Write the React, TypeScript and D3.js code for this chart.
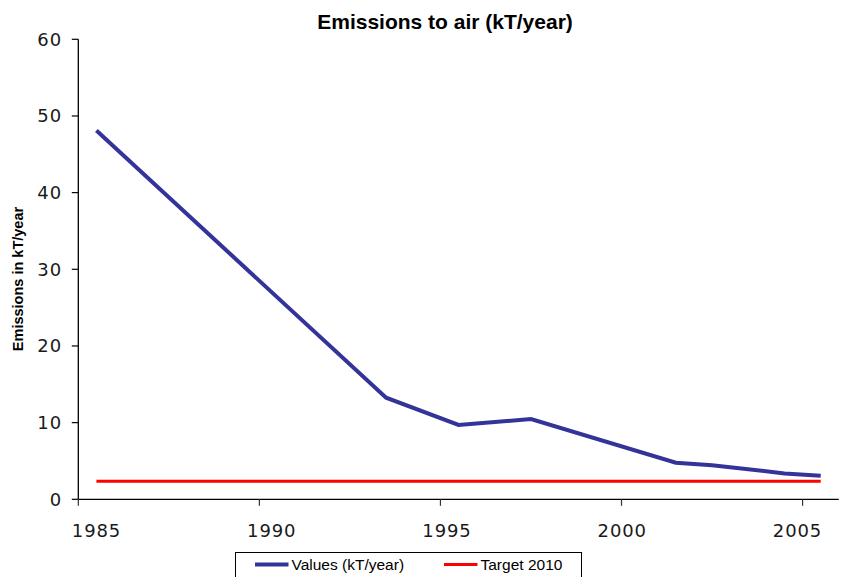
import React, { useEffect, useRef } from "react";
import * as d3 from "d3";

const title = "Emissions to air (kT/year)";
const yAxisTitle = "Emissions in kT/year";
const years = [1985.5, 1993.5, 1995.5, 1997.5, 2001.5, 2002.5, 2004.5, 2005.5];
const values = [48.1, 13.25, 9.7, 10.47, 4.77, 4.45, 3.38, 3.06];
const targetYears = [1985.5, 2004.5, 2005.5];
const targetValues = [2.36, 2.36, 2.36];
const xTicks = [1985, 1990, 1995, 2000, 2005];
const yTicks = [0, 10, 20, 30, 40, 50, 60];
const seriesNames = ["Values (kT/year)", "Target 2010"];
const seriesColors = ["#333399", "#FF0000"];

export default function App() {
  const ref = useRef<SVGSVGElement>(null);
  useEffect(() => {
    const svg = d3.select(ref.current);
    svg.selectAll("*").remove();
    const x = d3.scaleLinear().domain([1985, 2006]).range([78.3, 838.8]);
    const xLabel = d3.scaleLinear().domain([1985, 2005]).range([96, 797]);
    const y = d3.scaleLinear().domain([0, 60]).range([499.3, 39.3]);
    const digitFont = "'DejaVu Sans', Verdana, sans-serif";
    const arial = "'Liberation Sans', Arial, sans-serif";

    // title
    svg.append("text").attr("x", 445).attr("y", 29).attr("text-anchor", "middle")
      .attr("font-family", arial).attr("font-weight", "bold").attr("font-size", 21)
      .text(title);

    // y axis title
    svg.append("text").attr("transform", `translate(23,279) rotate(-90)`)
      .attr("text-anchor", "middle").attr("font-family", arial).attr("font-weight", "bold")
      .attr("font-size", 14.5).text(yAxisTitle);

    // y axis
    const gy = svg.append("g");
    gy.append("line").attr("x1", x(1985)).attr("x2", x(1985)).attr("y1", y(60)).attr("y2", y(0))
      .attr("stroke", "#000").attr("stroke-width", 1.3);
    gy.selectAll("line.tick").data(yTicks).join("line").attr("class", "tick")
      .attr("x1", x(1985) - 6.5).attr("x2", x(1985)).attr("y1", (d) => y(d)).attr("y2", (d) => y(d))
      .attr("stroke", "#000").attr("stroke-width", 1.2);
    gy.selectAll("text").data(yTicks).join("text")
      .attr("x", 62).attr("y", (d) => y(d)).attr("dy", "0.36em").attr("text-anchor", "end")
      .attr("font-family", digitFont).attr("font-size", 18).attr("letter-spacing", 0.9)
      .attr("fill", "#1a1a1a").text((d) => String(d));

    // x axis
    const gx = svg.append("g");
    gx.append("line").attr("x1", x(1985)).attr("x2", x(2006)).attr("y1", y(0)).attr("y2", y(0))
      .attr("stroke", "#000").attr("stroke-width", 1.3);
    gx.selectAll("line.tick").data(xTicks).join("line").attr("class", "tick")
      .attr("x1", (d) => x(d)).attr("x2", (d) => x(d)).attr("y1", y(0)).attr("y2", y(0) + 6.5)
      .attr("stroke", "#333").attr("stroke-width", 1.2);
    gx.selectAll("text").data(xTicks).join("text")
      .attr("x", (d) => xLabel(d) + 0.5).attr("y", 537).attr("text-anchor", "middle")
      .attr("font-family", digitFont).attr("font-size", 18).attr("letter-spacing", 0.9)
      .attr("fill", "#1a1a1a").text((d) => String(d));

    // series
    const line = d3.line<[number, number]>().x((d) => x(d[0])).y((d) => y(d[1]));
    svg.append("path").datum(targetYears.map((t, i) => [t, targetValues[i]] as [number, number]))
      .attr("d", line).attr("fill", "none").attr("stroke", seriesColors[1]).attr("stroke-width", 3);
    svg.append("path").datum(years.map((t, i) => [t, values[i]] as [number, number]))
      .attr("d", line).attr("fill", "none").attr("stroke", seriesColors[0]).attr("stroke-width", 4)
      .attr("stroke-linejoin", "miter");

    // legend
    const lg = svg.append("g");
    lg.append("rect").attr("x", 235.5).attr("y", 552.5).attr("width", 346).attr("height", 40)
      .attr("fill", "#fff").attr("stroke", "#000").attr("stroke-width", 1);
    const items = [
      { x0: 255, x1: 288.5, tx: 291.5, w: 4 },
      { x0: 444, x1: 477.5, tx: 480.5, w: 3 },
    ];
    items.forEach((it, i) => {
      lg.append("line").attr("x1", it.x0).attr("x2", it.x1).attr("y1", 564.5).attr("y2", 564.5)
        .attr("stroke", seriesColors[i]).attr("stroke-width", it.w);
      lg.append("text").attr("x", it.tx).attr("y", 569.5).attr("font-family", arial)
        .attr("font-size", 15.5).attr("fill", "#000").text(seriesNames[i]);
    });
  }, []);
  return (
    <svg ref={ref} width={848} height={577}
      style={{ position: "absolute", left: 0, top: 0, background: "#fff" }} />
  );
}
